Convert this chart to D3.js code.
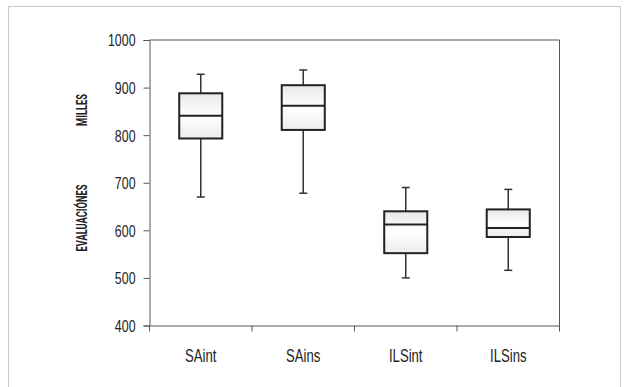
<!DOCTYPE html>
<html>
<head>
<meta charset="utf-8">
<script src="https://cdn.jsdelivr.net/npm/d3@7"></script>
<style>
  body { margin: 0; background: #fff; }
  svg { display: block; font-family: Roboto, "DejaVu Sans", sans-serif; }
</style>
</head>
<body>
<svg id="chart" width="624" height="387"></svg>
<script>
// box plot data (thousands)
const categories = ['SAint', 'SAins', 'ILSint', 'ILSins'];
const whiskerLow = [670, 678, 500, 516];
const q1 = [793, 811, 552, 586];
const median = [841, 862, 612, 605];
const q3 = [888, 905, 640, 644];
const whiskerHigh = [928, 937, 690, 686];
const yTicks = [400, 500, 600, 700, 800, 900, 1000];

const boxes = categories.map((c, i) => ({
  cat: c, lo: whiskerLow[i], q1: q1[i], med: median[i], q3: q3[i], hi: whiskerHigh[i]
}));

// the original uses a condensed face, so squeeze the text horizontally
const squeeze = 0.75;

const svg = d3.select('#chart');

// outer frame
svg.append('rect')
  .attr('x', 8.5).attr('y', 6.5)
  .attr('width', 612).attr('height', 400)
  .style('fill', 'none')
  .style('stroke', '#c8c8c8')
  .style('stroke-width', 1);

const plotLeft = 149.5, plotRight = 559.5, plotTop = 40, plotBottom = 325.5;

const x = d3.scaleBand().domain(categories).range([plotLeft, plotRight]).padding(0);
const y = d3.scaleLinear().domain([400, 1000]).range([plotBottom, plotTop]);

// gradient for the box fill
const grad = svg.append('defs').append('linearGradient')
  .attr('id', 'boxfill')
  .attr('x1', 0).attr('y1', 0).attr('x2', 0).attr('y2', 1);
grad.append('stop').attr('offset', '0%').attr('stop-color', '#e8e8e8');
grad.append('stop').attr('offset', '50%').attr('stop-color', '#ffffff');
grad.append('stop').attr('offset', '100%').attr('stop-color', '#ececec');

// plot border
svg.append('path')
  .attr('d', `M${plotLeft},${plotTop}H${plotRight}V${plotBottom}`)
  .style('fill', 'none')
  .style('stroke', '#555')
  .style('stroke-width', 1);

// y axis
const yAxis = svg.append('g')
  .attr('transform', `translate(${plotLeft},0)`)
  .call(d3.axisLeft(y).tickValues(yTicks).tickSize(6).tickPadding(8).tickFormat(d3.format('d')));
yAxis.select('.domain').style('stroke', '#555');
yAxis.selectAll('line').style('stroke', '#555');
yAxis.selectAll('text')
  .attr('x', -14 / squeeze)
  .attr('dy', '0.36em')
  .attr('transform', `scale(${squeeze},1)`)
  .style('font-size', '16.5px')
  .style('font-weight', 500)
  .style('fill', '#222');

// x axis labels
const xAxis = svg.append('g')
  .attr('transform', `translate(0,${plotBottom})`)
  .call(d3.axisBottom(x).tickSize(0));
xAxis.select('.domain').style('stroke', '#555');
xAxis.selectAll('text')
  .attr('y', 36.5)
  .attr('dy', 0)
  .attr('transform', `scale(${squeeze},1)`)
  .style('font-size', '17.5px')
  .style('font-weight', 500)
  .style('fill', '#222');

// boundary ticks between categories
const bounds = categories.map((c) => x(c)).concat([plotRight]);
svg.append('g')
  .selectAll('line')
  .data(bounds)
  .enter()
  .append('line')
  .attr('x1', (d) => d).attr('x2', (d) => d)
  .attr('y1', plotBottom).attr('y2', plotBottom + 6)
  .style('stroke', '#555');

// axis titles
svg.append('text')
  .attr('transform', 'translate(87,110) rotate(-90) scale(0.64,1)')
  .attr('text-anchor', 'middle')
  .style('font-size', '14.5px')
  .style('font-weight', 'bold')
  .style('fill', '#222')
  .text('MILLES');

svg.append('text')
  .attr('transform', 'translate(87,218) rotate(-90) scale(0.64,1)')
  .attr('text-anchor', 'middle')
  .style('font-size', '14.5px')
  .style('font-weight', 'bold')
  .style('fill', '#222')
  .text('EVALUACIÓNES');

// boxes
const boxW = x.bandwidth() * 0.42;
const capW = 8;
const g = svg.append('g')
  .selectAll('g')
  .data(boxes)
  .enter()
  .append('g')
  .attr('transform', (d) => `translate(${x(d.cat) + x.bandwidth() / 2},0)`);

g.append('line')
  .attr('x1', 0).attr('x2', 0)
  .attr('y1', (d) => y(d.hi)).attr('y2', (d) => y(d.lo))
  .style('stroke', '#333')
  .style('stroke-width', 1.5);

g.append('line')
  .attr('x1', -capW / 2).attr('x2', capW / 2)
  .attr('y1', (d) => y(d.hi)).attr('y2', (d) => y(d.hi))
  .style('stroke', '#333')
  .style('stroke-width', 1.5);

g.append('line')
  .attr('x1', -capW / 2).attr('x2', capW / 2)
  .attr('y1', (d) => y(d.lo)).attr('y2', (d) => y(d.lo))
  .style('stroke', '#333')
  .style('stroke-width', 1.5);

g.append('rect')
  .attr('x', -boxW / 2)
  .attr('width', boxW)
  .attr('y', (d) => y(d.q3))
  .attr('height', (d) => y(d.q1) - y(d.q3))
  .style('fill', 'url(#boxfill)')
  .style('stroke', '#222')
  .style('stroke-width', 2);

g.append('line')
  .attr('x1', -boxW / 2).attr('x2', boxW / 2)
  .attr('y1', (d) => y(d.med)).attr('y2', (d) => y(d.med))
  .style('stroke', '#222')
  .style('stroke-width', 2);
</script>
</body>
</html>
